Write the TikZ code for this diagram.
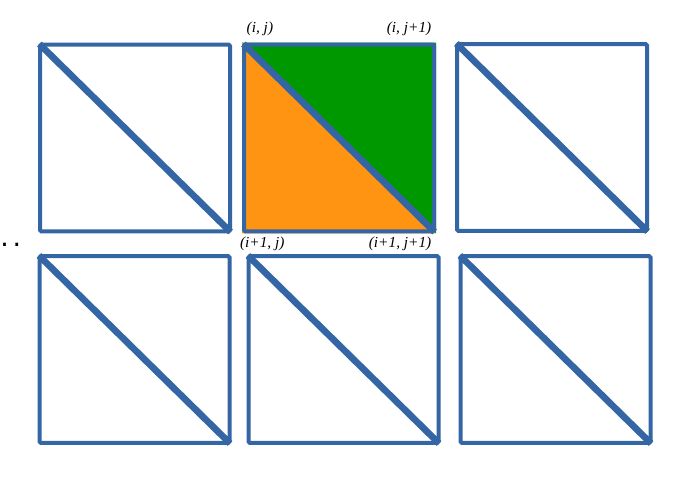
\documentclass[tikz,border=0pt]{standalone}
\usepackage{fontspec}
\setmainfont{Liberation Serif}
\newfontfamily\dotfont{DejaVu Sans}
\usetikzlibrary{positioning, backgrounds}

\definecolor{gridblue}{RGB}{52,101,164}
\definecolor{lowerorange}{RGB}{255,148,18}
\definecolor{uppergreen}{RGB}{0,152,0}

\tikzset{
  cell/.style={draw=gridblue, line width=3pt, minimum width=142.5pt, minimum height=140pt, inner sep=0pt, rounded corners=1pt},
  diag/.style={draw=gridblue, line width=5pt, shorten <=1.5pt, shorten >=1.5pt},
  corner/.style={font=\fontsize{11.5}{13}\selectfont\itshape}
}

\begin{document}
\begin{tikzpicture}[x=0.75pt, y=-0.75pt]
\useasboundingbox (0,0) rectangle (697,486);

% grid cells
\node[cell] (c11) at (135,138) {};
\node[cell] (c12) at (339,138) {};
\node[cell] (c13) at (552,137.5) {};
\node[cell] (c21) at (134.5,349.5) {};
\node[cell] (c22) at (343.5,349.5) {};
\node[cell] (c23) at (555.5,349.5) {};

% the two triangles of cell (i,j)
\begin{scope}[on background layer]
\fill[lowerorange] (c12.north west) -- (c12.south west) -- (c12.south east) -- cycle;
\fill[uppergreen] (c12.north west) -- (c12.north east) -- (c12.south east) -- cycle;
\end{scope}

% diagonals
\foreach \n in {c11,c12,c13,c21,c22,c23}
  \draw[diag] (\n.north west) -- (\n.south east);

% corner labels
\node[corner, above right=1.5pt and 0pt of c12.north west] (lij) {(i,\ j)};
\node[corner, above left=1.5pt and 0pt of c12.north east] (lijp) {(i,\ j+1)};
\node[corner, below right=-1pt and -5pt of c12.south west] (lipj) {(i+1,\ j)};
\node[corner, below left=-1pt and 0pt of c12.south east] (lipjp) {(i+1,\ j+1)};

\node[anchor=base west, inner sep=0pt, font=\dotfont\fontsize{20}{20}\selectfont] (dots) at (0,246) {.\hspace{3pt}.};
\end{tikzpicture}
\end{document}
